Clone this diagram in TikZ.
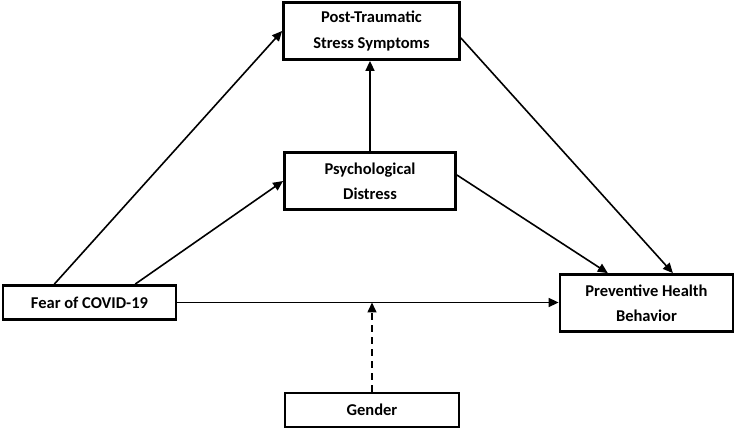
\documentclass[tikz,border=0pt]{standalone}
\usepackage{fontspec}
\setmainfont{Carlito}
\usetikzlibrary{arrows.meta, positioning, calc}

\begin{document}
\begin{tikzpicture}[
    x=1pt, y=-1pt,
    box/.style={draw, line width=2.8pt, minimum width=173pt, inner sep=2pt,
                align=center, font=\fontsize{16.5}{25}\selectfont\bfseries},
    tall/.style={box, minimum height=57pt},
    short/.style={box, minimum height=34pt},
    arr/.style={-{Triangle[length=10pt, width=9pt]}, line width=1.6pt},
    modarr/.style={arr, dashed, dash pattern=on 7pt off 5pt}
]
\useasboundingbox (0,0) rectangle (737,430);
% Mediators
\node[tall, minimum width=176pt] (ptss) at (371.5,31) {Post-Traumatic\\Stress Symptoms};
\node[tall, minimum width=171pt] (pd) at (370,181) {Psychological\\Distress};
% Predictor and outcome
\node[short] (fear) at (89.5,302.5) {Fear of COVID-19};
\node[tall] (phb) at (646.5,303) {Preventive Health\\Behavior};
% Moderator
\node[short, minimum width=174pt] (gender) at (372,410) {Gender};

\draw[arr] ($(fear.north west)!0.30!(fear.north east)$) -- (ptss.west);
\draw[arr] ($(fear.north west)!0.76!(fear.north east)$) -- (pd.west);
\draw[arr] (pd.north) -- (pd.north |- ptss.south);
\draw[arr] ([yshift=-7pt]ptss.east) -- ($(phb.north west)!0.65!(phb.north east)$);
\draw[arr] ([yshift=6pt]pd.east) -- ($(phb.north west)!0.28!(phb.north east)$);
\draw[arr] (fear.east) -- (fear.east -| phb.west);
\coordinate (modpt) at (gender.north |- fear.east);
\draw[modarr] (gender.north) -- (modpt);
\end{tikzpicture}
\end{document}
